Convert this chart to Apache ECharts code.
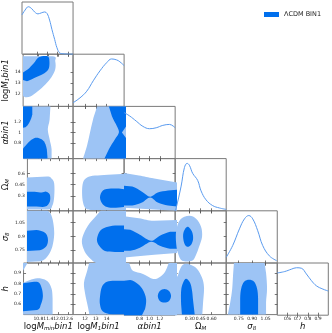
<!DOCTYPE html>
<html>
<head>
<meta charset="utf-8">
<script src="https://cdn.jsdelivr.net/npm/echarts@6/dist/echarts.min.js"></script>
<style>
html, body { margin: 0; padding: 0; background: #fff; }
#chart { width: 332px; height: 333px; }
</style>
</head>
<body>
<div id="chart"></div>
<script>
// parameter order: logMmin bin1, logM1 bin1, alpha bin1, Omega_M, sigma_8, h
const axisMin = [9.9, 10.9, 0.5, 0.1, 0.61, 0.5]
const axisMax = [12.9, 15.6, 1.5, 0.8, 1.18, 1.0]
const tickValues = [[10.8, 11.4, 12.0, 12.6], [12, 13, 14], [0.8, 1.0, 1.2], [0.3, 0.45, 0.6], [0.75, 0.9, 1.05], [0.6, 0.7, 0.8, 0.9]]
const xTickLabels = [['10.8', '11.4', '12.0', '12.6'], ['12', '13', '14'], ['0.8', '1.0', '1.2'], ['0.30', '0.45', '0.60'], ['0.75', '0.90', '1.05'], ['0.6', '0.7', '0.8', '0.9']]
const yTickLabels = [['10.8', '11.4', '12.0', '12.6'], ['12', '13', '14'], ['0.8', '1', '1.2'], ['0.3', '0.45', '0.6'], ['0.75', '0.9', '1.05'], ['0.6', '0.7', '0.8', '0.9']]
const axisNames = ['{n|log}{i|M}{s|min}{i|bin1}', '{n|log}{i|M}{s|1}{i|bin1}', '{i|αbin1}', '{n|Ω}{s|M}', '{i|σ}{s|8}', '{i|h}']
const legendName = 'ΛCDM BIN1'

// 1D marginals (diagonal)
const logMminX = [9.9, 10.08, 10.27, 10.47, 10.64, 10.84, 11.03, 11.23, 11.37, 11.52, 11.66, 11.82, 11.95, 12.11, 12.3, 12.9]
const logMminP = [0.83, 0.93, 1.0, 0.96, 0.89, 0.85, 0.87, 0.89, 0.86, 0.72, 0.52, 0.31, 0.14, 0.03, 0.01, 0]
const logM1X = [10.9, 10.99, 11.54, 12.16, 12.76, 13.38, 13.99, 14.45, 14.91, 15.21, 15.6]
const logM1P = [0.08, 0.09, 0.18, 0.32, 0.54, 0.75, 0.92, 1.0, 0.98, 0.94, 0.86]
const alphaX = [0.5, 0.607, 0.738, 0.867, 0.998, 1.129, 1.258, 1.389, 1.5]
const alphaP = [0.97, 0.9, 0.79, 0.68, 0.63, 0.65, 0.7, 0.72, 0.65]
const omegaX = [0.1, 0.114, 0.182, 0.227, 0.264, 0.295, 0.34, 0.409, 0.455, 0.524, 0.614, 0.706, 0.8]
const omegaP = [0.0, 0.06, 0.52, 0.91, 1.0, 0.96, 0.79, 0.64, 0.42, 0.23, 0.11, 0.06, 0.03]
const sigmaX = [0.61, 0.683, 0.758, 0.814, 0.862, 0.906, 0.962, 1.017, 1.092, 1.173]
const sigmaP = [0.12, 0.37, 0.72, 0.93, 1.0, 0.93, 0.68, 0.37, 0.15, 0.05]
const hX = [0.5, 0.573, 0.639, 0.688, 0.736, 0.785, 0.834, 0.883, 0.947, 1.0]
const hP = [0.89, 0.92, 0.97, 1.0, 0.99, 0.87, 0.73, 0.62, 0.55, 0.51]

// 2D contours, [x, y] in parameter units: light = 95%, dark = 68%
const c10Light = [[9.72, 15.42], [11.66, 15.42], [11.83, 14.97], [11.83, 14.25], [11.6, 13.53], [11.25, 12.9], [10.78, 12.27], [10.37, 11.82], [10.02, 11.73], [9.72, 12.0]]
const c10Dark = [[10.84, 15.33], [11.37, 15.42], [11.48, 14.97], [11.42, 14.25], [11.07, 13.8], [10.54, 13.44], [10.13, 13.17], [9.84, 13.3], [9.84, 13.89], [10.19, 14.25], [10.54, 14.79]]
const c20Light = [[9.72, 1.56], [11.54, 1.56], [11.48, 1.25], [11.37, 1.06], [11.48, 0.87], [11.6, 0.68], [11.6, 0.44], [9.72, 0.44]]
const c20DarkTop = [[9.72, 1.56], [10.43, 1.56], [10.43, 1.35], [10.25, 1.19], [10.02, 1.1], [9.72, 1.08]]
const c20DarkBottom = [[9.72, 0.44], [9.72, 0.64], [10.19, 0.81], [10.54, 0.89], [10.84, 0.89], [11.13, 0.83], [11.31, 0.68], [11.37, 0.44]]
const c21Light = [[13.1, 1.56], [15.86, 1.56], [15.86, 0.44], [11.73, 0.44], [11.82, 0.5], [12.19, 0.75], [12.46, 1.0], [12.74, 1.25], [13.1, 1.5]]
const c21Dark = [[14.11, 1.56], [15.86, 1.56], [15.86, 1.14], [15.4, 1.0], [15.86, 0.87], [15.86, 0.44], [13.65, 0.44], [14.2, 0.68], [14.76, 0.87], [15.12, 1.0], [14.94, 1.12], [14.48, 1.31]]
const c30Light = [[9.72, 0.545], [11.19, 0.559], [11.48, 0.532], [11.66, 0.465], [11.66, 0.29], [11.54, 0.17], [11.25, 0.116], [9.72, 0.116]]
const c30Dark = [[9.72, 0.357], [10.37, 0.357], [10.84, 0.344], [11.13, 0.357], [11.37, 0.317], [11.37, 0.223], [11.07, 0.156], [10.49, 0.156], [9.72, 0.156]]
const c31Light = [[11.82, 0.478], [12.19, 0.545], [12.92, 0.572], [14.11, 0.585], [15.86, 0.599], [15.86, 0.11], [12.74, 0.11], [12.09, 0.13], [11.82, 0.21], [11.73, 0.344]]
const c31Dark = [[13.38, 0.277], [13.65, 0.371], [14.39, 0.398], [15.12, 0.398], [15.86, 0.384], [15.86, 0.156], [15.12, 0.143], [14.2, 0.143], [13.65, 0.183]]
const c32Light = [[0.44, 0.612], [0.79, 0.572], [1.09, 0.532], [1.56, 0.478], [1.56, 0.1], [1.09, 0.116], [0.44, 0.143]]
const c32Dark = [[0.44, 0.438], [0.66, 0.425], [0.85, 0.357], [1.01, 0.29], [1.16, 0.344], [1.36, 0.371], [1.56, 0.384], [1.56, 0.156], [1.36, 0.17], [1.16, 0.21], [1.01, 0.277], [0.85, 0.21], [0.66, 0.17], [0.44, 0.17]]
const c40Light = [[9.72, 1.21], [11.07, 1.21], [11.42, 1.15], [11.6, 1.05], [11.66, 0.92], [11.54, 0.79], [11.25, 0.69], [10.78, 0.63], [9.72, 0.62]]
const c40Dark = [[9.72, 0.96], [10.49, 0.97], [10.95, 0.95], [11.19, 0.91], [11.25, 0.85], [11.13, 0.79], [10.72, 0.75], [9.72, 0.74]]
const c41Light = [[13.65, 1.21], [15.86, 1.21], [15.86, 0.59], [13.29, 0.59], [12.74, 0.63], [12.09, 0.71], [11.73, 0.82], [11.82, 0.91], [12.28, 1.02], [12.92, 1.11]]
const c41Dark = [[13.1, 0.87], [13.38, 0.96], [13.93, 1.0], [14.76, 1.02], [15.86, 1.02], [15.86, 0.73], [14.76, 0.73], [13.84, 0.74], [13.29, 0.8]]
const c42Light = [[0.44, 1.125], [0.79, 1.1], [1.09, 1.07], [1.56, 1.08], [1.56, 0.72], [1.09, 0.7], [0.44, 0.667]]
const c42Dark = [[0.44, 0.983], [0.62, 0.973], [0.81, 0.918], [1.03, 0.852], [1.2, 0.907], [1.4, 0.951], [1.56, 0.951], [1.56, 0.765], [1.4, 0.765], [1.2, 0.798], [1.03, 0.841], [0.81, 0.776], [0.62, 0.743], [0.44, 0.743]]
const c43Light = [[0.291, 1.125], [0.387, 1.093], [0.455, 1.005], [0.469, 0.896], [0.428, 0.787], [0.387, 0.7], [0.332, 0.634], [0.196, 0.634], [0.141, 0.71], [0.114, 0.82], [0.114, 0.962], [0.168, 1.082]]
const c43Dark = [[0.278, 1.005], [0.332, 0.951], [0.346, 0.874], [0.319, 0.809], [0.264, 0.787], [0.223, 0.831], [0.209, 0.918], [0.237, 0.983]]
const c50Light = [[9.72, 0.8], [10.37, 0.84], [10.95, 0.85], [11.37, 0.82], [11.6, 0.75], [11.66, 0.655], [11.66, 0.47], [9.72, 0.47]]
const c50LightCorner = [[9.72, 1.03], [10.25, 1.03], [9.72, 0.885]]
const c50Dark = [[9.72, 0.8], [10.54, 0.818], [10.84, 0.808], [11.01, 0.751], [11.07, 0.674], [10.95, 0.598], [10.72, 0.545], [9.72, 0.53]]
const c51Light = [[12.46, 1.03], [15.86, 1.03], [15.86, 0.47], [12.46, 0.47], [12.28, 0.57], [12.0, 0.71], [11.91, 0.81], [12.19, 0.92]]
const c51Dark = [[13.38, 0.674], [13.56, 0.77], [14.02, 0.818], [14.76, 0.828], [15.86, 0.828], [15.86, 0.5], [14.57, 0.5], [13.65, 0.531], [13.38, 0.598]]
const c52Light = [[0.44, 1.03], [0.58, 1.03], [0.62, 0.971], [0.68, 0.923], [0.87, 0.895], [1.07, 0.847], [1.2, 0.866], [1.3, 0.914], [1.36, 0.981], [1.4, 1.03], [1.56, 1.03], [1.56, 0.47], [0.44, 0.47]]
const c52DarkA = [[0.44, 0.828], [0.62, 0.837], [0.77, 0.799], [0.87, 0.741], [0.93, 0.655], [0.91, 0.559], [0.83, 0.48], [0.44, 0.48]]
const c52DarkB = [[1.42, 0.684], [1.38, 0.636], [1.29, 0.622], [1.2, 0.636], [1.16, 0.684], [1.2, 0.732], [1.29, 0.751], [1.38, 0.732]]
const c53Light = [[0.223, 0.99], [0.319, 0.981], [0.401, 0.943], [0.469, 0.856], [0.496, 0.761], [0.483, 0.617], [0.469, 0.47], [0.06, 0.47], [0.06, 0.828], [0.127, 0.866], [0.168, 0.943]]
const c53Dark = [[0.25, 0.847], [0.305, 0.808], [0.332, 0.732], [0.346, 0.636], [0.373, 0.47], [0.196, 0.47], [0.182, 0.598], [0.182, 0.732], [0.209, 0.808]]
const c54Light = [[0.699, 1.03], [1.033, 1.03], [1.055, 0.904], [1.066, 0.751], [1.055, 0.617], [1.055, 0.47], [0.621, 0.47], [0.655, 0.617], [0.677, 0.751], [0.688, 0.904]]
const c54Dark = [[0.866, 0.837], [0.922, 0.818], [0.955, 0.751], [0.966, 0.655], [0.966, 0.47], [0.766, 0.47], [0.766, 0.655], [0.777, 0.751], [0.81, 0.818]]

const marginals = [[logMminX, logMminP], [logM1X, logM1P], [alphaX, alphaP], [omegaX, omegaP], [sigmaX, sigmaP], [hX, hP]]
// [row, col, light polygons, dark polygons]
const contourPanels = [
  [1, 0, [c10Light], [c10Dark]],
  [2, 0, [c20Light], [c20DarkTop, c20DarkBottom]],
  [2, 1, [c21Light], [c21Dark]],
  [3, 0, [c30Light], [c30Dark]],
  [3, 1, [c31Light], [c31Dark]],
  [3, 2, [c32Light], [c32Dark]],
  [4, 0, [c40Light], [c40Dark]],
  [4, 1, [c41Light], [c41Dark]],
  [4, 2, [c42Light], [c42Dark]],
  [4, 3, [c43Light], [c43Dark]],
  [5, 0, [c50Light, c50LightCorner], [c50Dark]],
  [5, 1, [c51Light], [c51Dark]],
  [5, 2, [c52Light], [c52DarkA, c52DarkB]],
  [5, 3, [c53Light], [c53Dark]],
  [5, 4, [c54Light], [c54Dark]]
]

const darkColor = '#006FED'
const lightColor = '#9DC4F5'
const lineColor = '#5a9bef'
const frameColor = '#7a7a7a'
const tickColor = '#555'

const nameStyle = {
  color: '#111',
  fontFamily: 'DejaVu Sans',
  rich: {
    n: { fontSize: 8.5, lineHeight: 11, fontFamily: 'DejaVu Sans' },
    i: { fontSize: 8.5, lineHeight: 11, fontStyle: 'italic', fontFamily: 'DejaVu Sans' },
    s: { fontSize: 5.5, lineHeight: 5, fontStyle: 'italic', verticalAlign: 'bottom', fontFamily: 'DejaVu Sans' }
  }
}

function labelFor (values, labels) {
  return v => {
    const k = values.findIndex(t => Math.abs(t - v) < 1e-6)
    return k < 0 ? '' : labels[k]
  }
}

const cellLeft = 22, cellTop = 2, cellW = 51.05, cellH = 52.2
const grids = [], xAxes = [], yAxes = [], series = []
const gridOf = {}

for (let r = 0; r < 6; r++) {
  for (let c = 0; c <= r; c++) {
    const gi = grids.length
    gridOf[r + '-' + c] = gi
    grids.push({
      left: cellLeft + c * cellW, top: cellTop + r * cellH, width: cellW, height: cellH,
      show: true, borderColor: frameColor, borderWidth: 1, backgroundColor: 'transparent'
    })
    const tick = { show: true, inside: true, length: 2.5, customValues: tickValues[c], lineStyle: { color: tickColor, width: 0.8 } }
    xAxes.push({
      gridIndex: gi, type: 'value', position: 'bottom', min: axisMin[c], max: axisMax[c],
      axisLine: { show: false }, splitLine: { show: false }, axisTick: tick,
      axisLabel: {
        show: r === 5, customValues: tickValues[c], formatter: labelFor(tickValues[c], xTickLabels[c]),
        fontSize: 4.5, margin: 1.5, color: '#222', fontFamily: 'DejaVu Sans'
      },
      name: r === 5 ? axisNames[c] : '', nameLocation: 'middle', nameGap: 6, nameTextStyle: nameStyle
    })
    xAxes.push({
      gridIndex: gi, type: 'value', position: 'top', min: axisMin[c], max: axisMax[c],
      axisLine: { show: false }, splitLine: { show: false }, axisTick: tick, axisLabel: { show: false }
    })
    if (r === c) {
      yAxes.push({ gridIndex: gi, type: 'value', min: 0, max: 1.1, show: false })
      yAxes.push({ gridIndex: gi, type: 'value', min: 0, max: 1.1, show: false })
    } else {
      const ytick = { show: true, inside: true, length: 2.5, customValues: tickValues[r], lineStyle: { color: tickColor, width: 0.8 } }
      yAxes.push({
        gridIndex: gi, type: 'value', position: 'left', min: axisMin[r], max: axisMax[r],
        axisLine: { show: false }, splitLine: { show: false }, axisTick: ytick,
        axisLabel: {
          show: c === 0, customValues: tickValues[r], formatter: labelFor(tickValues[r], yTickLabels[r]),
          fontSize: 4.5, margin: 2.5, color: '#222', fontFamily: 'DejaVu Sans'
        },
        name: c === 0 ? axisNames[r] : '', nameLocation: 'middle', nameGap: 8, nameTextStyle: nameStyle
      })
      yAxes.push({
        gridIndex: gi, type: 'value', position: 'right', min: axisMin[r], max: axisMax[r],
        axisLine: { show: false }, splitLine: { show: false }, axisTick: ytick, axisLabel: { show: false }
      })
    }
  }
}

function contourRender (pts, px, py, color) {
  return function (params, api) {
    if (params.dataIndex !== 0) return null
    const p = pts.map(q => api.coord(q))
    const out = pts.map(q => q[0] < axisMin[px] || q[0] > axisMax[px] || q[1] < axisMin[py] || q[1] > axisMax[py])
    const n = p.length
    let d = 'M' + p[0][0] + ' ' + p[0][1]
    for (let i = 0; i < n; i++) {
      const a = p[(i - 1 + n) % n], b = p[i], e = p[(i + 1) % n], f = p[(i + 2) % n]
      if (out[i] || out[(i + 1) % n]) {
        d += ' L' + e[0] + ' ' + e[1]
        continue
      }
      const c1x = b[0] + (e[0] - a[0]) / 6, c1y = b[1] + (e[1] - a[1]) / 6
      const c2x = e[0] - (f[0] - b[0]) / 6, c2y = e[1] - (f[1] - b[1]) / 6
      d += ' C' + c1x + ' ' + c1y + ' ' + c2x + ' ' + c2y + ' ' + e[0] + ' ' + e[1]
    }
    d += ' Z'
    return { type: 'path', shape: { pathData: d }, style: { fill: color } }
  }
}

let legendUsed = false
contourPanels.forEach(([r, c, lights, darks]) => {
  const gi = gridOf[r + '-' + c]
  const add = (pts, color) => {
    const s = {
      type: 'custom', xAxisIndex: 2 * gi, yAxisIndex: 2 * gi, clip: true, silent: true,
      data: pts, encode: { x: 0, y: 1 },
      itemStyle: { color: color },
      renderItem: contourRender(pts, c, r, color)
    }
    if (color === darkColor && !legendUsed) {
      s.name = legendName
      legendUsed = true
    }
    series.push(s)
  }
  lights.forEach(pts => add(pts, lightColor))
  darks.forEach(pts => add(pts, darkColor))
})

marginals.forEach(([xs, ps], k) => {
  const gi = gridOf[k + '-' + k]
  series.push({
    type: 'line', xAxisIndex: 2 * gi, yAxisIndex: 2 * gi, silent: true,
    data: xs.map((x, i) => [x, ps[i]]), smooth: 0.4, showSymbol: false, symbol: 'none',
    lineStyle: { color: lineColor, width: 1 }
  })
})

const chart = echarts.init(document.getElementById('chart'), null, { renderer: 'canvas' })
chart.setOption({
  animation: false,
  backgroundColor: '#fff',
  textStyle: { fontFamily: 'DejaVu Sans' },
  legend: {
    data: [legendName], left: 259, top: 6, icon: 'rect', itemWidth: 15, itemHeight: 5,
    textStyle: { fontSize: 6.5, color: '#222', fontFamily: 'DejaVu Sans' }
  },
  grid: grids,
  xAxis: xAxes,
  yAxis: yAxes,
  series: series
})
</script>
</body>
</html>
